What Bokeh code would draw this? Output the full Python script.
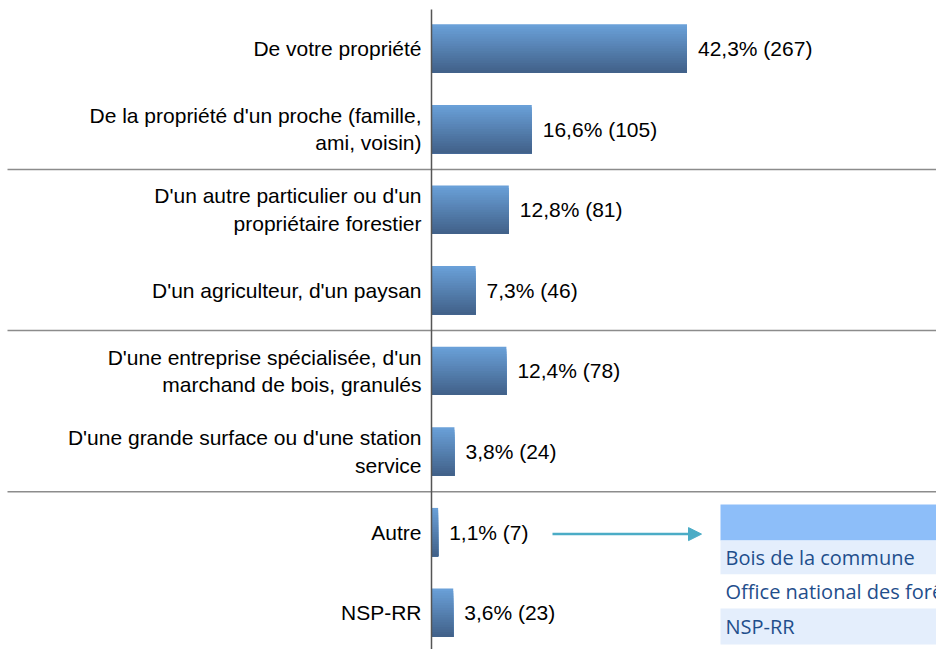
import numpy as np
from bokeh.plotting import figure
from bokeh.models import Range1d, Span, Arrow, NormalHead
from bokeh.core.properties import value
from bokeh.embed import file_html
from bokeh.resources import INLINE

# ---- data ----
categories = [
    "De votre propriété",
    "De la propriété d'un proche (famille,\nami, voisin)",
    "D'un autre particulier ou d'un\npropriétaire forestier",
    "D'un agriculteur, d'un paysan",
    "D'une entreprise spécialisée, d'un\nmarchand de bois, granulés",
    "D'une grande surface ou d'une station\nservice",
    "Autre",
    "NSP-RR",
]
percents = [42.3, 16.6, 12.8, 7.3, 12.4, 3.8, 1.1, 3.6]
counts = [267, 105, 81, 46, 78, 24, 7, 23]
autre_details = ["Bois de la commune", "Office national des forêts", "NSP-RR"]

LABEL_FONT = "Liberation Sans"
TABLE_FONT = "Open Sans"

W, H = 936, 649
AXIS_PX = 431
PX_PER_PCT = 6.04
ROW_PX = 80.6
ROW0_PX = 48
x0 = -AXIS_PX / PX_PER_PCT
y_top = -ROW0_PX / ROW_PX
y_bottom = y_top + H / ROW_PX

p = figure(width=W, height=H, output_backend="svg", toolbar_location=None,
           x_axis_type=None, y_axis_type=None,
           x_range=Range1d(x0, x0 + W / PX_PER_PCT),
           y_range=Range1d(y_bottom, y_top),
           min_border=0)
p.outline_line_color = None
p.xgrid.visible = False
p.ygrid.visible = False
p.background_fill_color = "white"
p.border_fill_color = "white"

n = len(categories)
ys = np.arange(n, dtype=float)
vals = np.array(percents)

# group separators
sep_left = x0 + 7 / PX_PER_PCT
sep_right = x0 + W / PX_PER_PCT + 2
p.segment(x0=sep_left, x1=sep_right, y0=[1.5, 3.5, 5.5], y1=[1.5, 3.5, 5.5],
          line_color="#8c8c8c", line_width=1.5)

# gradient bars via overlapping strips (each strip runs to the bar bottom)
bar_h = 0.6
N = 20
top_c = np.array([106, 160, 216])
bot_c = np.array([66, 98, 138])
for k in range(N):
    t = k / (N - 1)
    c = (top_c * (1 - t) + bot_c * t).astype(int)
    col = "#%02x%02x%02x" % tuple(c)
    top = -bar_h / 2 + k * bar_h / N
    bottom = bar_h / 2
    p.hbar(y=ys + (top + bottom) / 2, left=0, right=vals, height=bottom - top,
           fill_color=col, line_color=None)

# vertical axis line
p.segment(x0=0, x1=0, y0=y_top + 9 / ROW_PX, y1=y_bottom + 0.1,
          line_color="#555555", line_width=1.5)

# category labels
p.text(x=np.zeros(n), y=ys, text=categories, x_offset=-10,
       text_align="right", text_baseline="middle",
       text_font=value(LABEL_FONT), text_font_size="21px", text_color="#000000",
       text_line_height=1.2)

# value labels
val_labels = [f"{v:.1f}".replace(".", ",") + f"% ({c})" for v, c in zip(percents, counts)]
p.text(x=vals, y=ys, text=val_labels, x_offset=11,
       text_align="left", text_baseline="middle",
       text_font=value(LABEL_FONT), text_font_size="21px", text_color="#000000")

# detail table for "Autre"
autre_idx = categories.index("Autre")
tx_left = (720 - AXIS_PX) / PX_PER_PCT
tx_right = x0 + W / PX_PER_PCT + 5
row_edges = [autre_idx - 0.342, autre_idx + 0.104, autre_idx + 0.526, autre_idx + 0.948, autre_idx + 1.395]
fills = ["#8dbef9", "#e4eefc", "#ffffff", "#e4eefc"]
p.quad(left=tx_left, right=tx_right, top=row_edges[:-1], bottom=row_edges[1:],
       fill_color=fills, line_color=None)
detail_y = [(row_edges[i + 1] + row_edges[i + 2]) / 2 for i in range(len(autre_details))]
p.text(x=[tx_left] * len(autre_details), y=detail_y, text=autre_details, x_offset=5,
       text_align="left", text_baseline="middle",
       text_font=value(TABLE_FONT), text_font_size="20px", text_color="#1f4e8c")

# arrow from "Autre" to table
p.add_layout(Arrow(end=NormalHead(size=13, fill_color="#4bacc6", line_color="#4bacc6"),
                   x_start=(552 - AXIS_PX) / PX_PER_PCT, y_start=autre_idx + 0.025,
                   x_end=(701 - AXIS_PX) / PX_PER_PCT, y_end=autre_idx + 0.025,
                   line_color="#4bacc6", line_width=2.5))

open("out.html", "w").write(file_html(p, INLINE))
